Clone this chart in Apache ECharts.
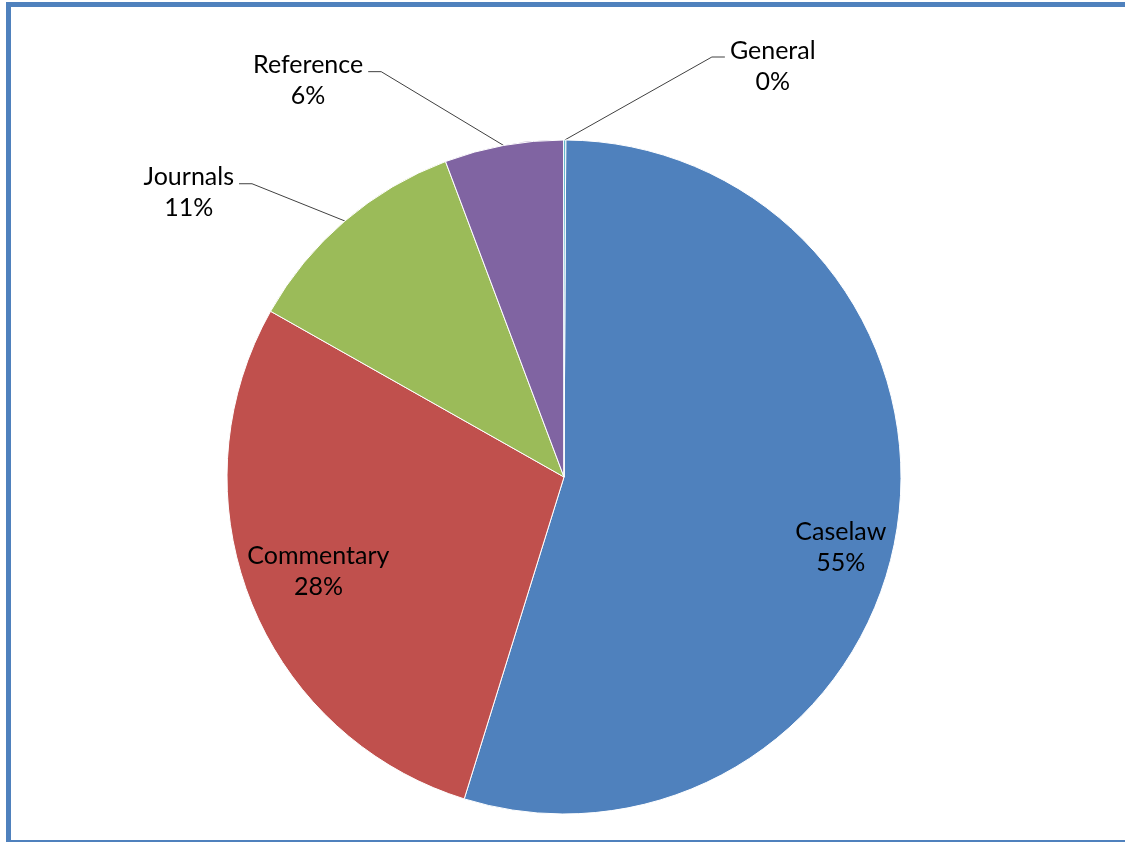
<!DOCTYPE html>
<html><head><meta charset="utf-8">
<script src="https://cdn.jsdelivr.net/npm/echarts@6/dist/echarts.min.js"></script>
<style>
html,body{margin:0;padding:0;background:#fff;overflow:hidden;width:1125px;height:842px}
#frame{position:absolute;left:6px;top:2px;width:1300px;height:833px;border:5px solid #4F81BD;}
#chart{position:absolute;left:0;top:0;width:1125px;height:842px;}
</style></head><body>
<div id="frame"></div><div id="chart"></div>
<script>
const categories = ['Caselaw', 'Commentary', 'Journals', 'Reference', 'General'];
const values = [54.7, 28.4, 11.1, 5.7, 0.1];
const colors = ['#4F81BD', '#C0504D', '#9BBB59', '#8064A2', '#4BACC6'];
const insideNames = ['Caselaw', 'Commentary'];

const FONT = 'Lato';
const labelText = function (p) {
  return '{n|' + p.name + '}\n{n|' + Math.round(p.percent) + '%}';
};
const rich = { n: { align: 'center', fontFamily: FONT, fontSize: 25, lineHeight: 31, color: '#000' } };

// style-only settings for label placement
const outsideLine = {
  Journals: { length: 49, length2: 74 },
  Reference: { length: 75, length2: 122 },
  General: { length: 83, length2: 160 }
};
const insideShift = { Caselaw: [5, 29], Commentary: [10, -7] };

const mainData = categories.map(function (c, i) {
  const isInside = insideNames.indexOf(c) >= 0;
  const item = { name: c, value: values[i], itemStyle: { color: colors[i] } };
  if (isInside) {
    item.label = { show: false };
    item.labelLine = { show: false };
  } else {
    item.labelLine = { show: true, length: outsideLine[c].length, length2: outsideLine[c].length2 };
  }
  return item;
});
const overlayData = categories.map(function (c, i) {
  const isInside = insideNames.indexOf(c) >= 0;
  return { name: c, value: values[i], label: { show: isInside } };
});

const chart = echarts.init(document.getElementById('chart'), null, { renderer: 'canvas' });
chart.setOption({
  animation: false,
  series: [
    {
      type: 'pie',
      center: [564, 477],
      radius: [0, 337],
      startAngle: 89.7,
      clockwise: true,
      avoidLabelOverlap: false,
      data: mainData,
      itemStyle: { borderColor: '#ffffff', borderWidth: 1 },
      label: {
        show: true,
        position: 'outside',
        alignTo: 'none',
        distanceToLabelLine: 5,
        formatter: labelText,
        rich: rich,
        padding: [18, 0, 0, 0]
      },
      labelLine: {
        show: true,
        smooth: false,
        lineStyle: { color: '#404040', width: 1 }
      },
      labelLayout: function (p) {
        const pts = p.labelLinePoints;
        if (!pts || pts.length < 3) return {};
        const side = p.align === 'right' ? 1 : -1;
        const end = pts[2];
        return { labelLinePoints: [pts[0], [end[0] + side * 13, end[1]], end] };
      }
    },
    {
      type: 'pie',
      silent: true,
      center: [564, 477],
      radius: [207, 337],
      startAngle: 89.7,
      clockwise: true,
      avoidLabelOverlap: false,
      data: overlayData,
      itemStyle: { color: 'rgba(0,0,0,0)', borderWidth: 0 },
      label: {
        position: 'inside',
        formatter: labelText,
        rich: rich
      },
      labelLine: { show: false },
      labelLayout: function (p) {
        const name = categories[p.dataIndex];
        const s = insideShift[name];
        return s ? { dx: s[0], dy: s[1] } : {};
      }
    }
  ]
});
</script>
</body></html>
